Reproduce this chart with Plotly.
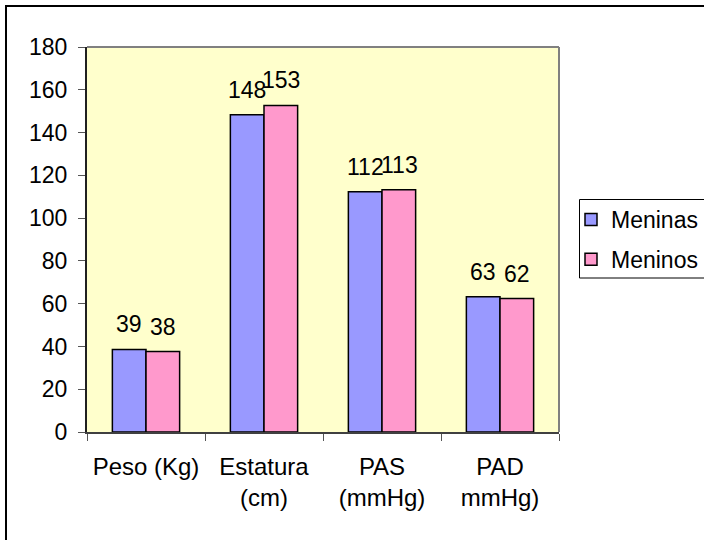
import plotly.graph_objects as go

categories = ["Peso (Kg)", "Estatura<br>(cm)", "PAS<br>(mmHg)", "PAD<br>mmHg)"]
meninas = [38.6, 148.3, 112.3, 63.2]
meninos = [37.6, 152.7, 113.3, 62.4]
meninas_labels = ["39", "148", "112", "63"]
meninos_labels = ["38", "153", "113", "62"]
y_ticks = [0, 20, 40, 60, 80, 100, 120, 140, 160, 180]

FONT = "Liberation Sans, Arial, sans-serif"
FS = 23

fig = go.Figure()
fig.add_trace(go.Bar(name="Meninas", x=categories, y=meninas, legendgroup="a",
                     marker=dict(color="#9999FF", line=dict(color="black", width=1.5))))
fig.add_trace(go.Bar(name="Meninos", x=categories, y=meninos, legendgroup="b",
                     marker=dict(color="#FF99CC", line=dict(color="black", width=1.5))))

for cat, v, t in zip(categories, meninas, meninas_labels):
    fig.add_annotation(x=cat, y=v, text=t, showarrow=False, xref="x", yref="y",
                       xshift=-17, yshift=10, yanchor="bottom",
                       font=dict(family=FONT, size=FS, color="black"))
for cat, v, t in zip(categories, meninos, meninos_labels):
    fig.add_annotation(x=cat, y=v, text=t, showarrow=False, xref="x", yref="y",
                       xshift=17, yshift=10, yanchor="bottom",
                       font=dict(family=FONT, size=FS, color="black"))

L, R, T, B = 87, 559, 47, 432
W, H = 704, 540
pw, ph = R - L, B - T

def px_x(p):
    return (p - L) / pw

def px_y(p):
    return (B - p) / ph

# outer border (left/top visible)
fig.add_shape(type="rect", xref="paper", yref="paper",
              x0=px_x(6), x1=px_x(720), y0=px_y(560), y1=px_y(6),
              line=dict(color="black", width=2), layer="below")
# legend box
fig.add_shape(type="rect", xref="paper", yref="paper",
              x0=px_x(579.5), x1=px_x(720), y0=px_y(278), y1=px_y(199.5),
              line=dict(color="black", width=1), fillcolor="white", layer="below")
# plot area top & right border
fig.add_shape(type="line", xref="paper", yref="paper", x0=0, x1=1, y0=1, y1=1,
              line=dict(color="#808080", width=2))
fig.add_shape(type="line", xref="paper", yref="paper", x0=1, x1=1, y0=0, y1=1,
              line=dict(color="#808080", width=2))

fig.update_layout(
    width=W, height=H,
    margin=dict(l=L, r=W - R, t=T, b=H - B, autoexpand=False),
    paper_bgcolor="white",
    plot_bgcolor="#FFFFCC",
    barmode="group",
    bargap=0.43,
    bargroupgap=0,
    font=dict(family=FONT, size=FS, color="black"),
    showlegend=True,
    legend=dict(x=px_x(571), xanchor="left", y=px_y(198), yanchor="top",
                borderwidth=0, bgcolor="rgba(0,0,0,0)",
                font=dict(family=FONT, size=FS), itemwidth=30,
                traceorder="grouped", tracegroupgap=7),
    xaxis=dict(type="category", showgrid=False, showline=True, linecolor="#404040",
               linewidth=2, ticks="outside", tickson="boundaries", ticklen=7,
               tickcolor="#555555", ticklabelstandoff=12,
               tickfont=dict(family=FONT, size=24)),
    yaxis=dict(range=[0, 180], tickvals=y_ticks, showgrid=False, showline=True,
               linecolor="#202020", linewidth=2, ticks="outside", ticklen=7,
               tickcolor="#555555", ticklabelstandoff=6,
               tickfont=dict(family=FONT, size=FS), zeroline=False),
)

fig.write_html("out.html", config={"displayModeBar": False},
               post_script="document.body.style.margin='0';")
